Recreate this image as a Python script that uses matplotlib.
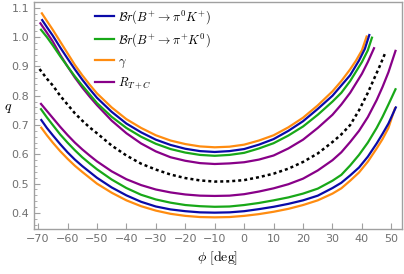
import matplotlib.pyplot as plt
import numpy as np

plt.rcParams['mathtext.fontset'] = 'cm'

# readings (phi in deg, q) for each curve, upper and lower branches
phi_orange_up = [-68.7, -67, -65, -62.5, -60, -57.5, -55, -52.5, -50, -45, -40, -35, -30, -25, -20, -15, -10,
                 -5, 0, 5, 10, 15, 20, 25, 30, 33, 36, 38, 40, 41.6]
q_orange_up = [1.081, 1.055, 1.025, 0.985, 0.945, 0.905, 0.87, 0.838, 0.808, 0.76, 0.72, 0.69, 0.665, 0.647, 0.635,
               0.627, 0.624, 0.626, 0.633, 0.647, 0.665, 0.692, 0.725, 0.767, 0.815, 0.85, 0.89, 0.92, 0.955, 1.002]

phi_blue_up = [-68.6, -67, -65, -62.5, -60, -57.5, -55, -52.5, -50, -45, -40, -35, -30, -25, -20, -15, -10,
               -5, 0, 5, 10, 15, 20, 25, 30, 33, 36, 39, 41, 42.5]
q_blue_up = [1.058, 1.034, 1.005, 0.965, 0.927, 0.89, 0.855, 0.823, 0.793, 0.745, 0.705, 0.675, 0.65, 0.632, 0.619,
             0.611, 0.608, 0.611, 0.618, 0.633, 0.652, 0.68, 0.713, 0.755, 0.80, 0.835, 0.87, 0.92, 0.96, 1.007]

phi_green_up = [-69, -67, -65, -62.5, -60, -57.5, -55, -52.5, -50, -45, -40, -35, -30, -25, -20, -15, -10,
                -5, 0, 5, 10, 15, 20, 25, 30, 33, 36, 40, 42, 43.4]
q_green_up = [1.025, 1.0, 0.972, 0.935, 0.90, 0.866, 0.835, 0.805, 0.775, 0.728, 0.69, 0.66, 0.636, 0.618, 0.606,
              0.598, 0.595, 0.598, 0.605, 0.62, 0.638, 0.664, 0.695, 0.735, 0.78, 0.81, 0.85, 0.915, 0.955, 0.998]

phi_purple_up = [-69.2, -67, -65, -62.5, -60, -57.5, -55, -52.5, -50, -45, -40, -35, -30, -25, -20, -15, -10,
                 -5, 0, 5, 10, 15, 20, 25, 30, 33, 36, 40, 42, 44.1]
q_purple_up = [1.047, 1.015, 0.985, 0.94, 0.90, 0.862, 0.828, 0.797, 0.768, 0.715, 0.672, 0.637, 0.61, 0.59, 0.578,
               0.57, 0.567, 0.569, 0.573, 0.582, 0.596, 0.62, 0.65, 0.69, 0.735, 0.77, 0.81, 0.875, 0.915, 0.962]

phi_dotted = [-69.5, -67, -65, -62.5, -60, -57.5, -55, -52.5, -50, -45, -40, -35, -30, -25, -20, -15, -10,
              -5, 0, 5, 10, 15, 20, 25, 30, 33, 36, 39, 42, 44, 46, 48]
q_dotted = [0.891, 0.858, 0.835, 0.80, 0.77, 0.74, 0.715, 0.692, 0.672, 0.63, 0.596, 0.568, 0.548, 0.531, 0.519,
            0.511, 0.507, 0.508, 0.512, 0.522, 0.534, 0.551, 0.574, 0.603, 0.642, 0.668, 0.70, 0.75, 0.81, 0.855,
            0.90, 0.948]

phi_purple_lo = [-69, -67, -65, -62.5, -60, -57.5, -55, -52.5, -50, -45, -40, -35, -30, -25, -20, -15, -10,
                 -5, 0, 5, 10, 15, 20, 25, 30, 33, 36, 39, 42, 45, 47, 49, 51.4]
q_purple_lo = [0.772, 0.748, 0.724, 0.694, 0.666, 0.64, 0.617, 0.596, 0.576, 0.542, 0.515, 0.495, 0.48, 0.47, 0.463,
               0.459, 0.458, 0.459, 0.464, 0.473, 0.484, 0.498, 0.517, 0.545, 0.58, 0.607, 0.642, 0.68, 0.727,
               0.785, 0.83, 0.88, 0.953]

phi_green_lo = [-69, -67, -65, -62.5, -60, -57.5, -55, -52.5, -50, -45, -40, -35, -30, -25, -20, -15, -10,
                -5, 0, 5, 10, 15, 20, 25, 30, 33, 36, 39, 42, 45, 47, 49, 51.4]
q_green_lo = [0.754, 0.726, 0.70, 0.668, 0.64, 0.614, 0.59, 0.569, 0.549, 0.514, 0.485, 0.462, 0.446, 0.435, 0.427,
              0.423, 0.421, 0.422, 0.427, 0.434, 0.443, 0.453, 0.466, 0.483, 0.51, 0.53, 0.562, 0.598, 0.64, 0.69,
              0.728, 0.77, 0.822]

phi_blue_lo = [-68.9, -67, -65, -62.5, -60, -57.5, -55, -52.5, -50, -45, -40, -35, -30, -25, -20, -15, -10,
               -5, 0, 5, 10, 15, 20, 25, 30, 33, 36, 39, 42, 45, 47, 49, 51.5]
q_blue_lo = [0.717, 0.69, 0.665, 0.635, 0.607, 0.582, 0.56, 0.54, 0.52, 0.487, 0.46, 0.438, 0.422, 0.412, 0.406,
             0.402, 0.401, 0.402, 0.406, 0.413, 0.421, 0.431, 0.443, 0.459, 0.485, 0.503, 0.528, 0.555, 0.592,
             0.637, 0.67, 0.705, 0.76]

phi_orange_lo = [-68.9, -67, -65, -62.5, -60, -57.5, -55, -52.5, -50, -45, -40, -35, -30, -25, -20, -15, -10,
                 -5, 0, 5, 10, 15, 20, 25, 30, 33, 36, 39, 42, 45, 47, 49, 51.2]
q_orange_lo = [0.691, 0.665, 0.64, 0.611, 0.585, 0.561, 0.54, 0.52, 0.50, 0.469, 0.443, 0.423, 0.408, 0.397, 0.39,
               0.386, 0.385, 0.386, 0.39, 0.396, 0.404, 0.414, 0.427, 0.443, 0.466, 0.484, 0.51, 0.538, 0.575,
               0.62, 0.652, 0.69, 0.757]

labels = [r'$\mathcal{B}r(B^{+}\to\pi^{0}K^{+})$', r'$\mathcal{B}r(B^{+}\to\pi^{+}K^{0})$',
          r'$\gamma$', r'$R_{T+C}$']

c_blue = '#0a0aa8'
c_green = '#18a818'
c_orange = '#ff8c10'
c_purple = '#880088'

fig = plt.figure(figsize=(4.04, 2.74), dpi=100)
ax = fig.add_axes([0.084, 0.164, 0.911, 0.829])

lw = 1.6
ax.plot(phi_orange_lo, q_orange_lo, color=c_orange, lw=lw)
ax.plot(phi_blue_lo, q_blue_lo, color=c_blue, lw=lw)
ax.plot(phi_green_lo, q_green_lo, color=c_green, lw=lw)
ax.plot(phi_purple_lo, q_purple_lo, color=c_purple, lw=lw)
ax.plot(phi_dotted, q_dotted, color='black', lw=1.8, linestyle=(0, (1.2, 1.2)))
ax.plot(phi_orange_up, q_orange_up, color=c_orange, lw=lw)
ax.plot(phi_purple_up, q_purple_up, color=c_purple, lw=lw)
ax.plot(phi_green_up, q_green_up, color=c_green, lw=lw)
ax.plot(phi_blue_up, q_blue_up, color=c_blue, lw=lw)

# legend handles
h = [plt.Line2D([0], [0], color=c, lw=lw) for c in [c_blue, c_green, c_orange, c_purple]]
ax.legend(h, labels, loc='upper left', bbox_to_anchor=(0.16, 0.985), frameon=False,
          fontsize=9, handlelength=1.5, handletextpad=0.3, labelspacing=0.45,
          borderpad=0.2, borderaxespad=0)

ax.set_xlim(-71.4, 53.6)
ax.set_ylim(0.345, 1.117)
ax.set_xticks(np.arange(-70, 51, 10))
ax.set_yticks(np.arange(0.4, 1.11, 0.1))
ax.set_yticks(np.arange(0.36, 1.12, 0.02), minor=True)
ax.set_xticklabels(['\u221270', '\u221260', '\u221250', '\u221240', '\u221230', '\u221220',
                    '\u221210', '0', '10', '20', '30', '40', '50'])
ax.set_yticklabels(['0.4', '0.5', '0.6', '0.7', '0.8', '0.9', '1.0', '1.1'])

gray = '#a0a0a0'
for s in ax.spines.values():
    s.set_color(gray)
    s.set_linewidth(1.0)
ax.tick_params(axis='both', which='both', direction='in', color=gray, labelcolor='#707070',
               labelsize=8, top=False, right=False)
ax.tick_params(axis='both', which='major', length=4, width=0.8)
ax.tick_params(axis='y', which='minor', length=2, width=0.6)

ax.set_xlabel(r'$\phi\ [\mathrm{deg}]$', fontsize=10, labelpad=4)
ax.set_ylabel(r'$q$', fontsize=10, rotation=0, labelpad=8)
ax.yaxis.set_label_coords(-0.07, 0.5)

fig.savefig('out.png', dpi=100)
